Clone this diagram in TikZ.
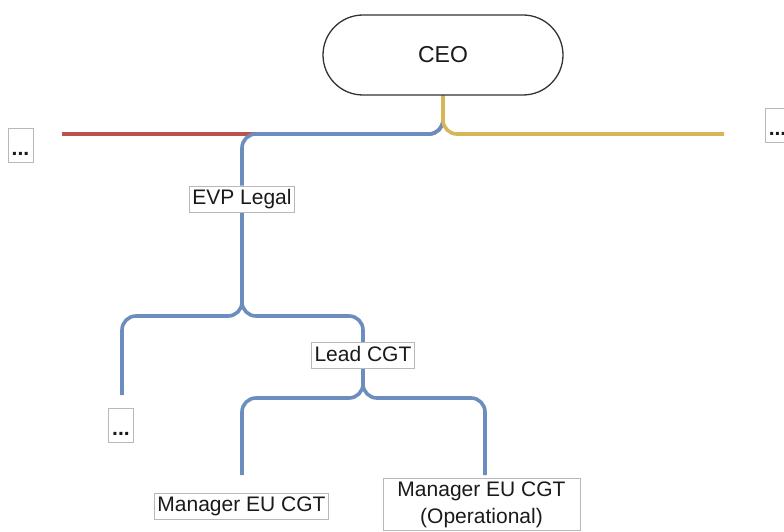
\documentclass[tikz,border=0pt]{standalone}
\usepackage{fontspec}
\setmainfont{Liberation Sans}
\usetikzlibrary{backgrounds}
\definecolor{lnred}{HTML}{B85450}
\definecolor{lnblue}{HTML}{6C8EBF}
\definecolor{lnyellow}{HTML}{D6B656}
\definecolor{lblborder}{HTML}{B8B8B8}
\definecolor{txt}{HTML}{1A1A1A}
\begin{document}
\begin{tikzpicture}[x=1pt,y=-1pt,
  conn/.style={line width=3.6pt, rounded corners=14pt},
  lblbase/.style={draw=lblborder, line width=0.8pt, fill=white, text=txt,
    inner xsep=3pt, inner ysep=3pt, font=\fontsize{21}{27}\selectfont},
  lbl/.style={lblbase, text height=15.5pt, text depth=4.5pt},
  dotbox/.style={draw=lblborder, line width=0.8pt, fill=white, text=txt,
    minimum width=25pt, inner xsep=0pt, inner ysep=5pt, text height=22pt, text depth=2pt,
    font=\fontsize{21}{25}\selectfont\bfseries},
  ceobox/.style={draw=black!80, line width=1.3pt, fill=white, text=txt,
    rounded corners=40pt, minimum width=240pt, minimum height=80pt,
    font=\fontsize{23}{27}\selectfont}
]
\useasboundingbox (0,0) rectangle (784,532);

% nodes
\node[ceobox] (ceo) at (443,55) {CEO};
\node[lbl] (evp) at (242,199) {EVP Legal};
\node[lbl] (lead) at (363,355.5) {Lead CGT};
\node[lbl] (mgr) at (241.5,506) {Manager EU CGT};
\node[lblbase, anchor=north, minimum width=197pt, align=center] (mgrop) at (481.5,478)
  {Manager EU CGT\\(Operational)};
\node[dotbox] (ldots) at (20.5,145) {...};
\node[dotbox] (rdots) at (777.5,125.5) {...};
\node[dotbox] (cdots) at (121,425) {...};

% junctions and free line ends
\coordinate (top) at (443,134);
\coordinate (redend) at (62,134);
\coordinate (yelend) at (724,134);
\coordinate (evpfork) at (242,316);
\coordinate (leadfork) at (363,398);
\coordinate (cdotsend) at (122,395);
\coordinate (mgrend) at (242,475);
\coordinate (mgropend) at (485,475);

\begin{scope}[on background layer]
  \draw[conn, lnred] (ceo.south) -- (top) -- (redend);
  \draw[conn, lnblue] (ceo.south) -- (top) -| (evp.north);
  \draw[conn, lnblue] (evp.south) -- (evpfork) -| (cdotsend);
  \draw[conn, lnblue] (evp.south) -- (evpfork) -| (lead.north);
  \draw[conn, lnblue] (lead.south) -- (leadfork) -| (mgrend);
  \draw[conn, lnblue] (lead.south) -- (leadfork) -| (mgropend);
  \draw[conn, lnyellow] (ceo.south) -- (top) -- (yelend);
\end{scope}
\end{tikzpicture}
\end{document}
